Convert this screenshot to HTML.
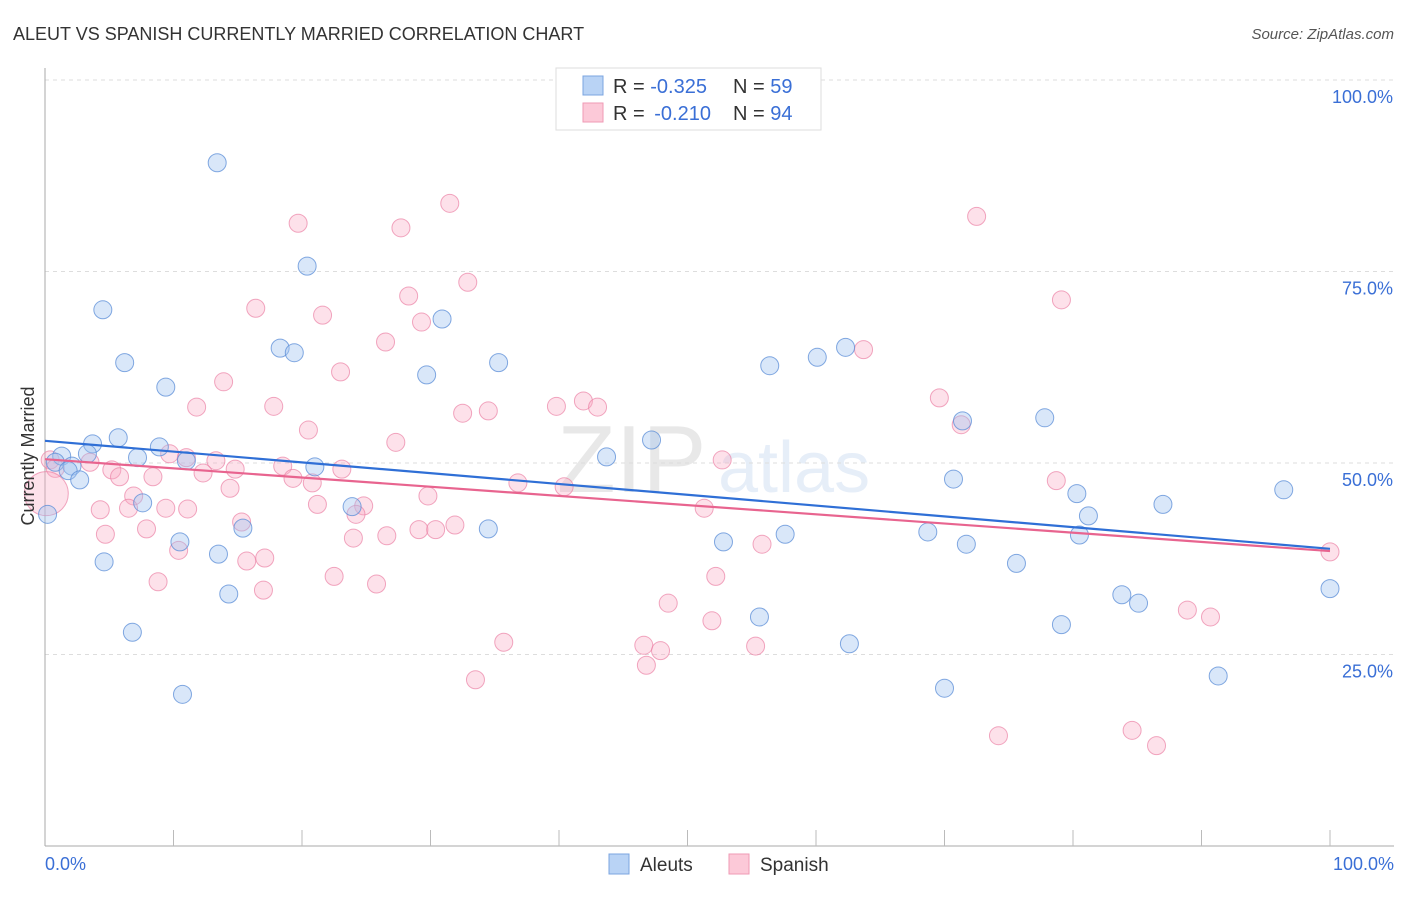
<!DOCTYPE html>
<html><head><meta charset="utf-8"><style>
body{margin:0;background:#fff;font-family:"Liberation Sans",sans-serif}
svg text{font-family:"Liberation Sans",sans-serif}
</style></head><body>
<svg id="chart" width="1406" height="892" viewBox="0 0 1406 892" xmlns="http://www.w3.org/2000/svg">
<text x="13" y="40" font-size="18" fill="#333">ALEUT VS SPANISH CURRENTLY MARRIED CORRELATION CHART</text>
<text x="1394" y="39" font-size="15" fill="#555" font-style="italic" text-anchor="end">Source: ZipAtlas.com</text>
<g opacity="0.13">
<text x="557" y="492" font-size="96" font-family="Liberation Serif" fill="#555">ZIP</text>
<text x="718" y="492" font-size="72" fill="#4a7fd0">atlas</text>
</g>
<g id="grid"></g>
<g id="axes"></g>
<g id="lines"></g>
<g id="points"></g>
<text transform="translate(34,456) rotate(-90)" font-size="18" fill="#333" text-anchor="middle">Currently Married</text>
<g>
<rect x="556" y="68" width="265" height="62" fill="#fff" stroke="#ddd"/>
<rect x="583" y="76" width="20" height="19" fill="#b9d3f5" stroke="#7ba4e0"/>
<rect x="583" y="103" width="20" height="19" fill="#fcc9d8" stroke="#ef9ab5"/>
<text x="613" y="93" font-size="20" fill="#333">R = <tspan fill="#3a6fd6">-0.325</tspan><tspan x="733">N = </tspan><tspan fill="#3a6fd6">59</tspan></text>
<text x="613" y="120" font-size="20" fill="#333">R = <tspan fill="#3a6fd6" dx="4">-0.210</tspan><tspan x="733">N = </tspan><tspan fill="#3a6fd6">94</tspan></text>
</g>
<g>
<rect x="609" y="854" width="20" height="20" fill="#b9d3f5" stroke="#7ba4e0"/>
<text x="640" y="871" font-size="19" fill="#333">Aleuts</text>
<rect x="729" y="854" width="20" height="20" fill="#fcc9d8" stroke="#ef9ab5"/>
<text x="760" y="871" font-size="19" fill="#333">Spanish</text>
</g>
</svg>
<script>
const yTicks=[25,50,75,100];
const yTickLabels=["25.0%","50.0%","75.0%","100.0%"];
const aleutX=[13.4,20.4,4.5,30.9,18.3,19.4,6.2,35.3,29.7,9.4,56.4,60.1,62.3,5.7,3.7,8.9,47.2,71.4,77.8,1.3,3.3,7.2,11.0,21.0,43.7,0.8,2.1,1.8,2.7,7.6,23.9,70.7,80.3,87.0,96.4,81.2,34.5,15.4,68.7,80.5,10.5,52.8,57.6,71.7,0.2,13.5,4.6,75.6,100,83.8,85.1,14.3,55.6,6.8,79.1,62.6,10.7,70.0,91.3];
const aleutY=[89.2,75.7,70.0,68.8,65.0,64.4,63.1,63.1,61.5,59.9,62.7,63.8,65.1,53.3,52.5,52.1,53.0,55.5,55.9,50.9,51.2,50.7,50.3,49.5,50.8,50.1,49.6,49.0,47.8,44.8,44.3,47.9,46.0,44.6,46.5,43.1,41.4,41.5,41.0,40.6,39.7,39.7,40.7,39.4,43.3,38.1,37.1,36.9,33.6,32.8,31.7,32.9,29.9,27.9,28.9,26.4,19.8,20.6,22.2];
const spanX=[31.5,19.7,27.7,72.5,32.9,28.3,16.4,21.6,29.3,79.1,26.5,63.7,23.0,13.9,11.8,17.8,32.5,34.5,39.8,41.9,43.0,69.6,71.3,20.5,27.3,9.7,11.0,13.3,0.4,3.5,5.2,5.8,8.4,12.3,14.8,18.5,19.3,23.1,20.8,14.4,36.8,40.4,78.7,6.9,6.5,4.3,9.4,11.1,21.2,24.8,24.2,29.8,51.3,52.7,15.3,4.7,7.9,26.6,29.1,30.4,31.9,24.0,10.4,17.1,15.7,22.5,8.8,25.8,17.0,52.2,55.8,100,48.5,88.9,90.7,51.9,35.7,46.6,47.9,55.3,46.8,33.5,74.2,84.6,86.5,0.8,0.1];
const spanY=[83.9,81.3,80.7,82.2,73.6,71.8,70.2,69.3,68.4,71.3,65.8,64.8,61.9,60.6,57.3,57.4,56.5,56.8,57.4,58.1,57.3,58.5,55.0,54.3,52.7,51.2,50.7,50.3,50.4,50.1,49.1,48.2,48.2,48.7,49.2,49.6,48.0,49.2,47.4,46.7,47.4,46.9,47.7,45.7,44.1,43.9,44.1,44.0,44.6,44.4,43.3,45.7,44.1,50.4,42.3,40.7,41.4,40.5,41.3,41.3,41.9,40.2,38.6,37.6,37.2,35.2,34.5,34.2,33.4,35.2,39.4,38.4,31.7,30.8,29.9,29.4,26.6,26.2,25.5,26.1,23.6,21.7,14.4,15.1,13.1,49.3,46.0];
const spanR=spanX.map((v,i)=>i===spanX.length-1?22:9);
const aleutTrend=[52.9,38.8];
const spanTrend=[50.5,38.5];
const NS="http://www.w3.org/2000/svg";
const X0=45,X1=1330,Y0=846,Y100=80;
const sx=v=>X0+(X1-X0)*v/100;
const sy=v=>Y0-(Y0-Y100)*v/100;
function mk(tag,attrs,parent){const e=document.createElementNS(NS,tag);for(const k in attrs)e.setAttribute(k,attrs[k]);parent.appendChild(e);return e;}
const grid=document.getElementById('grid'),axes=document.getElementById('axes');
yTicks.forEach((t,i)=>{
  const l=mk('line',{x1:45,x2:1394,y1:sy(t),y2:sy(t),stroke:'#ddd','stroke-dasharray':'4,4'},grid);
  
  
  const tx=mk('text',{x:1393,y:sy(t)+23,'font-size':18,fill:'#3a6fd6','text-anchor':'end'},axes);
  tx.textContent=yTickLabels[i];
  
  
});
const ya=mk('line',{x1:45,x2:45,y1:68,y2:846,stroke:'#aaa'},axes);


const xa=mk('line',{x1:45,x2:1394,y1:846,y2:846,stroke:'#aaa'},axes);


for(let i=1;i<=10;i++){const t=mk('line',{x1:sx(i*10),x2:sx(i*10),y1:830,y2:846,stroke:'#bbb'},axes);

}
[[0,'0.0%','start',45],[100,'100.0%','end',1394]].forEach(d=>{const t=mk('text',{x:d[3],y:870,'font-size':18,fill:'#3a6fd6','text-anchor':d[2]},axes);t.textContent=d[1];

});
const pts=document.getElementById('points');
spanX.forEach((v,i)=>{const c=mk('circle',{cx:sx(v),cy:sy(spanY[i]),r:spanR[i],fill:'rgba(248,170,195,0.35)',stroke:'rgba(235,130,165,0.7)','stroke-width':1},pts);

});
aleutX.forEach((v,i)=>{const c=mk('circle',{cx:sx(v),cy:sy(aleutY[i]),r:9,fill:'rgba(160,195,240,0.4)',stroke:'rgba(90,140,215,0.75)','stroke-width':1},pts);

});
const tb=mk('line',{x1:sx(0),y1:sy(aleutTrend[0]),x2:sx(100),y2:sy(aleutTrend[1]),stroke:'#2f6fd6','stroke-width':2.2},pts);


const tp=mk('line',{x1:sx(0),y1:sy(spanTrend[0]),x2:sx(100),y2:sy(spanTrend[1]),stroke:'#e8648f','stroke-width':2.2},pts);


</script>
</body></html>
